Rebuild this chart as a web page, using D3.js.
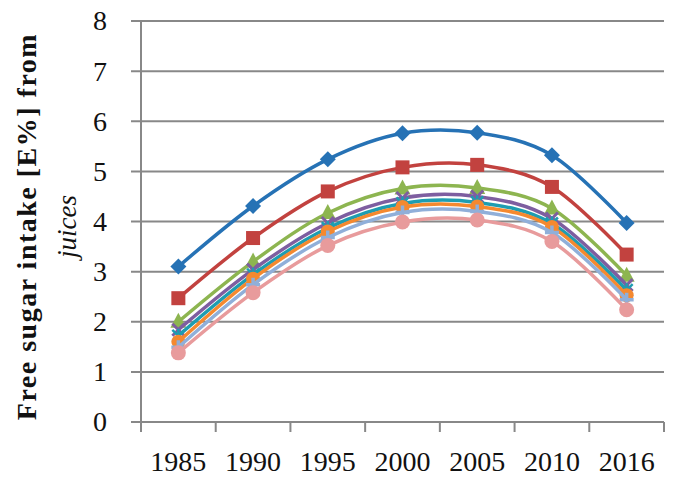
<!DOCTYPE html>
<html>
<head>
<meta charset="utf-8">
<script src="https://cdn.jsdelivr.net/npm/d3@7"></script>
<style>
    body { margin: 0; background: #fff; }
    svg { display: block; }
    .axis text { font-family: "Liberation Serif", "Times New Roman", serif; font-size: 28px; fill: #111; }
    .title { font-family: "Liberation Serif", "Times New Roman", serif; fill: #111; }
</style>
</head>
<body>
<div id="chart"></div>
<script>
// data
let years = ["1985", "1990", "1995", "2000", "2005", "2010", "2016"];
let yTicks = [0, 1, 2, 3, 4, 5, 6, 7, 8];

let s1 = [3.10, 4.31, 5.24, 5.76, 5.77, 5.32, 3.97];
let s2 = [2.47, 3.67, 4.60, 5.08, 5.13, 4.69, 3.34];
let s3 = [2.00, 3.20, 4.17, 4.66, 4.67, 4.26, 2.92];
let s4 = [1.84, 3.04, 3.97, 4.47, 4.50, 4.06, 2.73];
let s5 = [1.72, 2.94, 3.87, 4.36, 4.38, 3.96, 2.63];
let s6 = [1.60, 2.86, 3.80, 4.29, 4.30, 3.89, 2.53];
let s7 = [1.49, 2.74, 3.68, 4.18, 4.20, 3.78, 2.44];
let s8 = [1.38, 2.58, 3.52, 3.99, 4.03, 3.60, 2.24];

let seriesList = [
    {values: s1, color: "#2672b5", marker: "diamond"},
    {values: s2, color: "#c2423f", marker: "square"},
    {values: s3, color: "#8db550", marker: "triangle"},
    {values: s4, color: "#7e5ea0", marker: "x"},
    {values: s5, color: "#1e9db1", marker: "star"},
    {values: s6, color: "#f5892f", marker: "circle"},
    {values: s7, color: "#90afd9", marker: "plus"},
    {values: s8, color: "#e89b9c", marker: "bigcircle"}
];

let margin = {top: 21, right: 15, bottom: 63, left: 141};
let totalW = 679, totalH = 485;
let width = totalW - margin.left - margin.right;
let height = totalH - margin.top - margin.bottom;

let svg = d3.select("#chart").append("svg")
    .attr("width", totalW)
    .attr("height", totalH);

let g = svg.append("g")
    .attr("transform", `translate(${margin.left}, ${margin.top})`);

// scales
let x = d3.scaleBand().domain(years).range([0, width]);
let y = d3.scaleLinear().domain([0, 8]).range([height, 0]);

// gridlines
g.selectAll(".grid")
    .data(yTicks)
    .enter().append("line")
    .attr("class", "grid")
    .attr("x1", -10)
    .attr("x2", width)
    .attr("y1", d => y(d))
    .attr("y2", d => y(d))
    .attr("stroke", "#888")
    .attr("stroke-width", 2);

// y axis
let yAxis = d3.axisLeft(y).tickValues(yTicks).tickSize(0).tickPadding(34);
g.append("g")
    .attr("class", "axis y-axis")
    .call(yAxis)
    .call(a => a.select(".domain").remove());

g.append("line")
    .attr("x1", 0).attr("x2", 0)
    .attr("y1", 0).attr("y2", height)
    .attr("stroke", "#888")
    .attr("stroke-width", 2);

// x axis: ticks sit between the categories
let xAxis = d3.axisBottom(x).tickSize(0).tickPadding(29);
g.append("g")
    .attr("class", "axis x-axis")
    .attr("transform", `translate(0, ${height})`)
    .call(xAxis)
    .call(a => a.select(".domain").remove());

let bounds = years.map(d => x(d)).concat([width]);
g.selectAll(".xtick")
    .data(bounds)
    .enter().append("line")
    .attr("class", "xtick")
    .attr("x1", d => d).attr("x2", d => d)
    .attr("y1", height).attr("y2", height + 10)
    .attr("stroke", "#888")
    .attr("stroke-width", 2);

// axis title
let title = svg.append("text")
    .attr("class", "title")
    .attr("transform", `translate(0, ${margin.top + height / 2}) rotate(-90)`)
    .attr("text-anchor", "middle");

title.append("tspan")
    .attr("x", -5)
    .attr("y", 36)
    .attr("font-weight", "bold")
    .attr("font-size", 28)
    .attr("letter-spacing", 1.5)
    .text("Free sugar intake [E%] from");

title.append("tspan")
    .attr("x", -5)
    .attr("y", 76)
    .attr("font-style", "italic")
    .attr("font-size", 27)
    .text("juices");

// lines
let line = d3.line()
    .x((d, i) => x(years[i]) + x.bandwidth() / 2)
    .y(d => y(d))
    .curve(d3.curveCardinal.tension(0));

function drawMarker(sel, type, color) {
    if (type === "diamond") {
        sel.append("path").attr("d", "M0,-8L8,0L0,8L-8,0Z").attr("fill", color);
    } else if (type === "square") {
        sel.append("rect").attr("x", -7).attr("y", -7).attr("width", 14).attr("height", 14).attr("fill", color);
    } else if (type === "triangle") {
        sel.append("path").attr("d", "M0,-9L8,6L-8,6Z").attr("fill", color);
    } else if (type === "x") {
        sel.append("path").attr("d", "M-6,-6L6,6M6,-6L-6,6").attr("stroke", color).attr("stroke-width", 3);
    } else if (type === "star") {
        sel.append("path").attr("d", "M-6,-6L6,6M6,-6L-6,6M0,-7L0,7").attr("stroke", color).attr("stroke-width", 2.5);
    } else if (type === "circle") {
        sel.append("circle").attr("r", 7).attr("fill", color);
    } else if (type === "plus") {
        sel.append("path").attr("d", "M-7,0L7,0M0,-7L0,7").attr("stroke", color).attr("stroke-width", 3.5);
    } else {
        sel.append("circle").attr("r", 7.5).attr("fill", color);
    }
}

seriesList.forEach(s => {
    let sg = g.append("g").attr("class", "series");
    sg.append("path")
        .datum(s.values)
        .attr("d", line)
        .attr("fill", "none")
        .attr("stroke", s.color)
        .attr("stroke-width", 3.5);

    sg.selectAll(".pt")
        .data(s.values)
        .enter().append("g")
        .attr("class", "pt")
        .attr("transform", (d, i) => `translate(${x(years[i]) + x.bandwidth() / 2}, ${y(d)})`)
        .each(function () { drawMarker(d3.select(this), s.marker, s.color); });
});
</script>
</body>
</html>
